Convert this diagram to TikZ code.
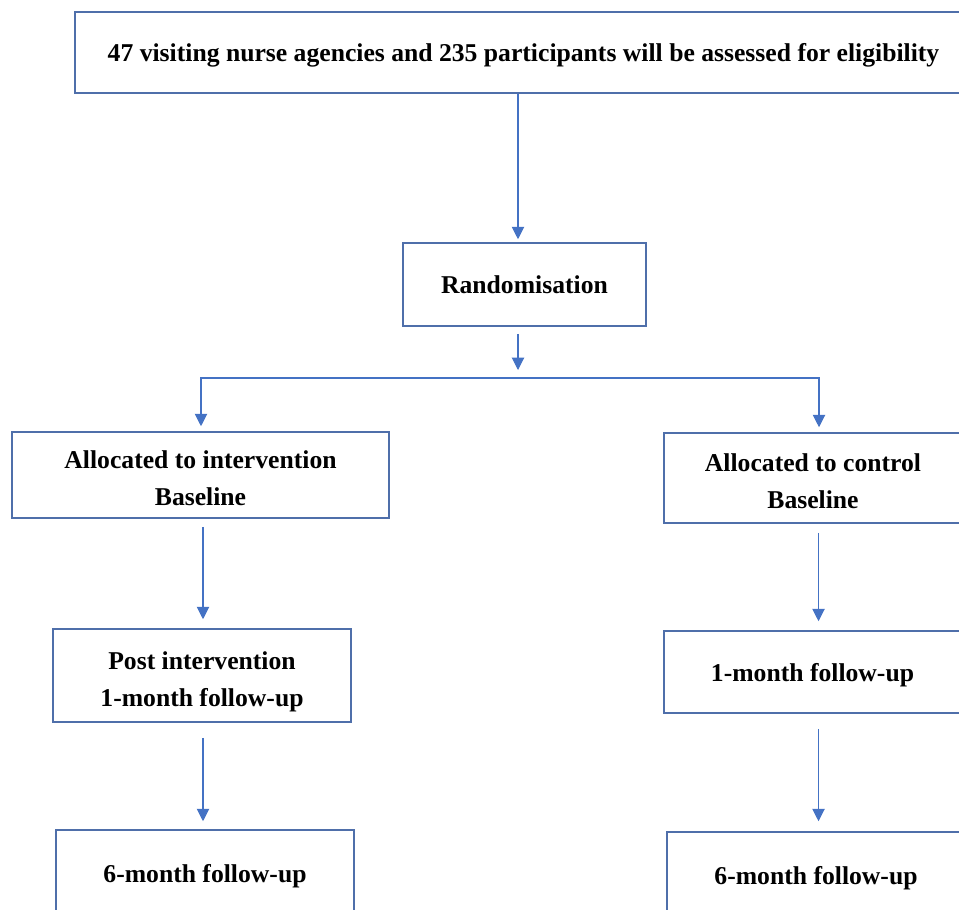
\documentclass[tikz,border=0pt]{standalone}
\usepackage{fontspec}
\setmainfont{Liberation Serif}
\usetikzlibrary{
  arrows.meta,
  positioning,
}
\definecolor{boxblue}{HTML}{4F6FAA}
\definecolor{lineblue}{HTML}{4472C4}
\tikzstyle{stage} = [
rectangle,
draw=boxblue,
line width=0.9pt,
align=center,
inner sep=0pt,
text depth=0pt,
text height=10.8pt,
font=\fontsize{14.6}{21}\selectfont\bfseries
]
\tikzstyle{twoline} = [text height=35pt]
\tikzstyle{arrow} = [draw=lineblue, line width=0.6pt, -{Triangle[width=7pt,length=7pt]}]

\begin{document}
\begin{tikzpicture}[x=0.02cm, y=-0.02cm]
  \useasboundingbox (0,0) rectangle (959,909);
  % Place nodes
  \node [stage, minimum width=17.94cm, minimum height=1.62cm] (elig) at (523.5,52.5)
    {47 visiting nurse agencies and 235 participants will be assessed for eligibility};
  \node [stage, minimum width=4.86cm, minimum height=1.66cm] (rand) at (524.5,284.5) {Randomisation};

  \node [stage, twoline, minimum width=7.54cm, minimum height=1.72cm] (interv) at (200.5,475)
    {Allocated to intervention\\Baseline};
  \node [stage, twoline, minimum width=5.96cm, minimum height=1.8cm] (control) at (813,478)
    {Allocated to control\\Baseline};

  \node [stage, twoline, minimum width=5.96cm, minimum height=1.86cm] (post) at (202,675.5)
    {Post intervention\\1-month follow-up};
  \node [stage, minimum width=5.94cm, minimum height=1.64cm] (month1) at (812.5,672) {1-month follow-up};

  \node [stage, minimum width=5.96cm, minimum height=1.72cm] (sixL) at (205,873) {6-month follow-up};
  \node [stage, minimum width=5.96cm, minimum height=1.72cm] (sixR) at (816,875) {6-month follow-up};

  \coordinate (split) at (518,378);
  \coordinate (lbr) at (201,0);
  \coordinate (rbr) at (819,0);
  \coordinate (lcol) at (203,0);
  \coordinate (rcol) at (818.5,0);

  % Draw edges
  \path [arrow, shorten >=0.06cm] (elig.south -| split) -- (rand.north -| split);
  \path [arrow, shorten <=0.14cm, shorten >=0.16cm] (rand.south -| split) -- (split);

  \path [arrow, shorten >=0.1cm] (split) -| (interv.north -| lbr);
  \path [arrow, shorten >=0.1cm] (split) -| (control.north -| rbr);

  \path [arrow, shorten <=0.16cm, shorten >=0.18cm] (interv.south -| lcol) -- (post.north -| lcol);
  \path [arrow, shorten <=0.18cm, shorten >=0.18cm] (control.south -| rcol) -- (month1.north -| rcol);

  \path [arrow, shorten <=0.3cm, shorten >=0.16cm] (post.south -| lcol) -- (sixL.north -| lcol);
  \path [arrow, shorten <=0.3cm, shorten >=0.2cm] (month1.south -| rcol) -- (sixR.north -| rcol);

\end{tikzpicture}
\end{document}
